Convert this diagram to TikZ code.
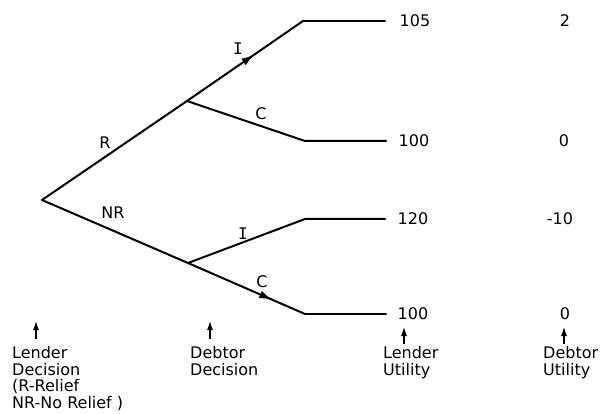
\documentclass[tikz,border=0pt]{standalone}
\usepackage{fontspec}
\setmainfont{DejaVu Sans}
\newfontfamily\serI{DejaVu Sans Mono}
\usetikzlibrary{arrows.meta,decorations.markings}
\begin{document}
\begin{tikzpicture}[x=1pt,y=-1pt,
  branch/.style={line width=2pt, line cap=round, line join=round},
  midarrow/.style={postaction={decorate}, decoration={markings,
      mark=at position #1 with {\arrow{Latex[length=13pt,width=8pt]}}}},
  lbl/.style={font=\fontsize{16}{16}\selectfont, inner sep=0pt},
  val/.style={font=\fontsize{16}{16}\selectfont, inner sep=0pt},
  note/.style={font=\fontsize{16}{16.7}\selectfont, inner sep=0pt, align=left, anchor=north west},
  pointer/.style={line width=1.1pt, -{Latex[length=9pt,width=6pt]}}]
\useasboundingbox (0,0) rectangle (600,414);
% tree points
\coordinate (root) at (42,200);
\coordinate (d1) at (187,101);
\coordinate (d2) at (188,263);
\coordinate (e1) at (303,21);  \coordinate (f1) at (385,21);
\coordinate (e2) at (305,141); \coordinate (f2) at (386,141);
\coordinate (e3) at (305,219); \coordinate (f3) at (385,219);
\coordinate (e4) at (305,314); \coordinate (f4) at (386,314);
% branches
\draw[branch] (root) -- (d1);
\draw[branch] (root) -- (d2);
\draw[branch, midarrow=0.58] (d1) -- (e1);
\draw[branch] (e1) -- (f1);
\draw[branch] (d1) -- (e2) -- (f2);
\draw[branch] (d2) -- (e3) -- (f3);
\draw[branch, midarrow=0.72] (d2) -- (e4);
\draw[branch] (e4) -- (f4);
% branch labels
\node[lbl] (lR)  at (105,143) {R};
\node[lbl] (lNR) at (113,213) {NR};
\node[lbl] (lI1) at (238,49) {\serI I};
\node[lbl] (lC1) at (261,114) {C};
\node[lbl] (lI2) at (243,234) {\serI I};
\node[lbl] (lC2) at (262,282) {C};
% values
\node[val] (v1) at (415,21) {105};
\node[val] (v2) at (414,141) {100};
\node[val] (v3) at (413,219) {120};
\node[val] (v4) at (413,314) {100};
\node[val] (w1) at (565,21) {2};
\node[val] (w2) at (564,141) {0};
\node[val] (w3) at (560,219) {-10};
\node[val] (w4) at (565,314) {0};
% bottom notes
\node[note] (nLD) at (12,346) {Lender\\Decision\\(R-Relief\\NR-No Relief )};
\node[note] (nDD) at (190,346) {Debtor\\Decision};
\node[note] (nLU) at (383,346) {Lender\\Utility};
\node[note] (nDU) at (543,346) {Debtor\\Utility};
% pointer arrows
\coordinate (pLD0) at (36,339); \coordinate (pLD1) at (36,321);
\coordinate (pDD0) at (210,339); \coordinate (pDD1) at (210,321);
\coordinate (pLU0) at (404,344); \coordinate (pLU1) at (404,327);
\coordinate (pDU0) at (564,344); \coordinate (pDU1) at (564,327);
\draw[pointer] (pLD0) -- (pLD1);
\draw[pointer] (pDD0) -- (pDD1);
\draw[pointer] (pLU0) -- (pLU1);
\draw[pointer] (pDU0) -- (pDU1);
\end{tikzpicture}
\end{document}
